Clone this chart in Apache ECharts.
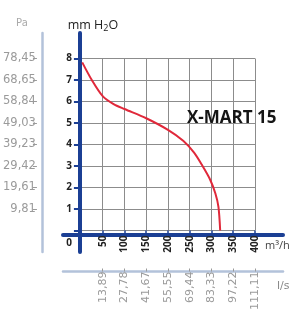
<!DOCTYPE html>
<html lang="it">
<head>
    <meta charset="UTF-8">
    <title>X-MART 15</title>
    <script src="https://cdn.jsdelivr.net/npm/echarts@6/dist/echarts.min.js"></script>
    <style>
        html, body { margin: 0; padding: 0; background: #fff; }
        #main { width: 296px; height: 313px; }
    </style>
</head>
<body>
<div id="main"></div>
<script>
    // dati (portata m3/h -> pressione mm H2O)
    var portata = [3, 25, 50, 75, 100, 150, 200, 235, 260, 280, 297, 309, 316, 320];
    var pressione = [7.82, 7.0, 6.25, 5.88, 5.65, 5.22, 4.68, 4.17, 3.62, 2.98, 2.36, 1.72, 1.1, 0];
    var tickPortata = [50, 100, 150, 200, 250, 300, 350, 400];
    var labelLs = ['13,89', '27,78', '41,67', '55,55', '69,44', '83,33', '97,22', '111,11'];
    var tickPa = [1, 2, 3, 4, 5, 6, 7, 8];
    var labelPa = ['9,81', '19,61', '29,42', '39,23', '49,03', '58,84', '68,65', '78,45'];

    // posizione del reticolo
    var L = 79.5, T = 58.5, W = 175.5, H = 176.5;
    // assi lunghi (linee blu) che escono dal reticolo
    var BL = 63, BT = 33, BR = 283, BB = 252;
    var xPerPx = 400 / W, yPerPx = 8 / H;

    var blu = '#1b3f94', azzurro = '#b3c2da', grigio = '#9a9a9a', scuro = '#222';

    var myChart = echarts.init(document.getElementById('main'));
    var option = {
        animation: false,
        title: {
            text: 'X-MART 15',
            left: 182, top: 105,
            textStyle: { fontFamily: 'Open Sans', fontWeight: 'bold', fontSize: 17, color: '#151515' }
        },
        grid: [
            { left: L, top: T, width: W, height: H },
            { left: BL, top: BT, width: BR - BL, height: BB - BT }
        ],
        xAxis: [
            {
                gridIndex: 0, type: 'value', min: 0, max: 400, interval: 50,
                axisLine: { show: false, onZero: false },
                axisTick: { show: true, length: 3, lineStyle: { color: blu, width: 1.5 } },
                splitLine: { lineStyle: { color: '#8c8c8c', width: 1 } },
                axisLabel: {
                    rotate: 90, margin: 5, fontFamily: 'Open Sans', fontWeight: 'bold', fontSize: 10, color: scuro,
                    formatter: function (v) { return v === 0 ? '' : String(v); }
                },
                name: 'm³/h', nameLocation: 'end', nameGap: 10,
                nameTextStyle: { fontFamily: 'Open Sans', fontSize: 11, color: '#444', verticalAlign: 'top', padding: [10, 0, 0, 0] }
            },
            {
                gridIndex: 0, type: 'value', min: 0, max: 400, position: 'bottom', offset: 38,
                axisLine: { show: false, onZero: false },
                splitLine: { show: false },
                axisTick: { show: true, length: 3, customValues: tickPortata, lineStyle: { color: grigio } },
                axisLabel: {
                    rotate: 90, margin: 3, fontFamily: 'DejaVu Sans', fontSize: 11, color: grigio,
                    customValues: tickPortata,
                    formatter: function (v) { return labelLs[tickPortata.indexOf(v)] || ''; }
                },
                name: 'l/s', nameLocation: 'end', nameGap: 22,
                nameTextStyle: { fontFamily: 'DejaVu Sans', fontSize: 11, color: '#888', verticalAlign: 'top', padding: [12, 0, 0, 0] }
            },
            {
                gridIndex: 1, type: 'value',
                min: (BL - L) * xPerPx, max: (BR - L) * xPerPx,
                axisLine: { show: true, onZero: true, lineStyle: { color: blu, width: 4 } },
                axisTick: { show: false }, axisLabel: { show: false }, splitLine: { show: false }
            },
            {
                gridIndex: 1, type: 'value', position: 'bottom', offset: 271.5 - BB,
                min: (BL - L) * xPerPx, max: (BR + 2 - L) * xPerPx,
                axisLine: { show: true, onZero: false, lineStyle: { color: azzurro, width: 2.5 } },
                axisTick: { show: false }, axisLabel: { show: false }, splitLine: { show: false }
            }
        ],
        yAxis: [
            {
                gridIndex: 0, type: 'value', min: 0, max: 8, interval: 1,
                axisLine: { show: false, onZero: false },
                axisTick: { show: true, length: 7, lineStyle: { color: blu, width: 2 } },
                splitLine: { lineStyle: { color: '#8c8c8c', width: 1 } },
                axisLabel: {
                    margin: 9, fontFamily: 'Open Sans', fontWeight: 'bold', fontSize: 10, color: scuro,
                    formatter: function (v) { return v === 0 ? '{z|0}' : String(v); },
                    rich: { z: { fontFamily: 'Open Sans', fontWeight: 'bold', fontSize: 10, color: scuro, padding: [26, 0, 0, 0] } }
                },
                name: '{a|mm H}{s|2}{a|O}', nameLocation: 'end', nameGap: 26,
                nameTextStyle: {
                    padding: [0, 0, 0, 24],
                    rich: {
                        a: { fontFamily: 'Open Sans', fontSize: 12.5, color: scuro, verticalAlign: 'top' },
                        s: { fontFamily: 'Open Sans', fontSize: 9, color: scuro, verticalAlign: 'bottom', padding: [5, 0, 0, 0] }
                    }
                }
            },
            {
                gridIndex: 0, type: 'value', min: 0, max: 8, position: 'left', offset: 44,
                axisLine: { show: false, onZero: false },
                splitLine: { show: false },
                axisTick: { show: true, length: 4, customValues: tickPa, lineStyle: { color: grigio } },
                axisLabel: {
                    margin: 1, fontFamily: 'DejaVu Sans', fontSize: 11.5, color: grigio,
                    customValues: tickPa,
                    formatter: function (v) { return labelPa[tickPa.indexOf(v)] || ''; }
                },
                name: 'Pa', nameLocation: 'end', nameGap: 30,
                nameTextStyle: { fontFamily: 'DejaVu Sans', fontSize: 10, color: '#aaa', padding: [0, 30, 0, 0] }
            },
            {
                gridIndex: 1, type: 'value',
                min: (235 - BB) * yPerPx, max: (235 - BT) * yPerPx,
                axisLine: { show: true, onZero: true, lineStyle: { color: blu, width: 4 } },
                axisTick: { show: false }, axisLabel: { show: false }, splitLine: { show: false }
            },
            {
                gridIndex: 1, type: 'value', position: 'left', offset: BL - 42.5,
                min: (235 - BB) * yPerPx, max: (235 - BT) * yPerPx,
                axisLine: { show: true, onZero: false, lineStyle: { color: azzurro, width: 2.5 } },
                axisTick: { show: false }, axisLabel: { show: false }, splitLine: { show: false }
            }
        ],
        series: [
            {
                name: 'X-MART 15',
                type: 'line',
                xAxisIndex: 0, yAxisIndex: 0,
                smooth: 0.3,
                symbol: 'none',
                lineStyle: { color: '#e0283a', width: 2 },
                data: portata.map(function (q, i) { return [q, pressione[i]]; })
            }
        ]
    };
    myChart.setOption(option);
</script>
</body>
</html>
